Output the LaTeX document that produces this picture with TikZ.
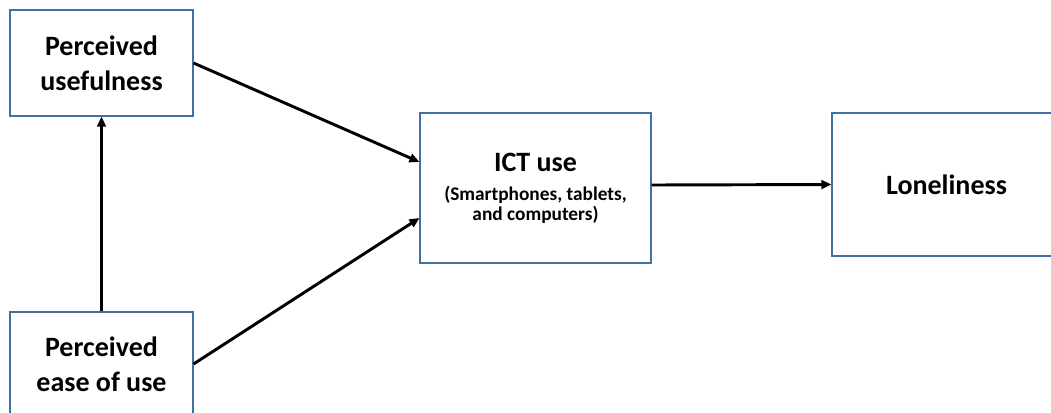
\documentclass[tikz,border=0pt]{standalone}
\usepackage{fontspec}
\setmainfont{Carlito}
\usepackage{tikz}
\usetikzlibrary{arrows.meta}

\definecolor{boxline}{RGB}{65,113,156}

\begin{document}
\begin{tikzpicture}[x=0.75pt, y=-0.75pt,
        block/.style={draw=boxline, line width=0.8pt, fill=white, align=center, inner sep=0pt,
            font=\fontsize{21}{26}\selectfont\bfseries},
        link/.style={line width=2.2pt, -{Triangle[length=7.5pt, width=6.5pt]}}]
        \useasboundingbox (0,0) rectangle (1051,412);
        
        \coordinate (pupos) at (101.5, 63);
        \coordinate (peupos) at (101.5, 364);
        \coordinate (ictpos) at (535.5, 188);
        \coordinate (lonpos) at (946.5, 184.5);
        
        \node[block, minimum width=137.25pt, minimum height=79.5pt] (pu) at (pupos) {Perceived\\usefulness};
        \node[block, minimum width=137.25pt, minimum height=78pt] (peu) at (peupos) {Perceived\\ease of use};
        \node[block, minimum width=173.25pt, minimum height=112.5pt] (ict) at (ictpos)
            {ICT use\\[-4pt]\fontsize{14.5}{14}\selectfont(Smartphones, tablets,\\[-11.3pt]\fontsize{14.5}{14}\selectfont and computers)};
        \node[block, minimum width=171.75pt, minimum height=107.25pt] (lon) at (lonpos) {Loneliness};
        
        \draw[link] (peu.north) -- (pu.south);
        \draw[link] (pu.east) -- ([yshift=19.5pt]ict.west);
        \draw[link] (peu.east) -- ([yshift=-22.5pt]ict.west);
        \draw[link] ([yshift=2.25pt]ict.east) -- (lon.west);
    \end{tikzpicture}
\end{document}
